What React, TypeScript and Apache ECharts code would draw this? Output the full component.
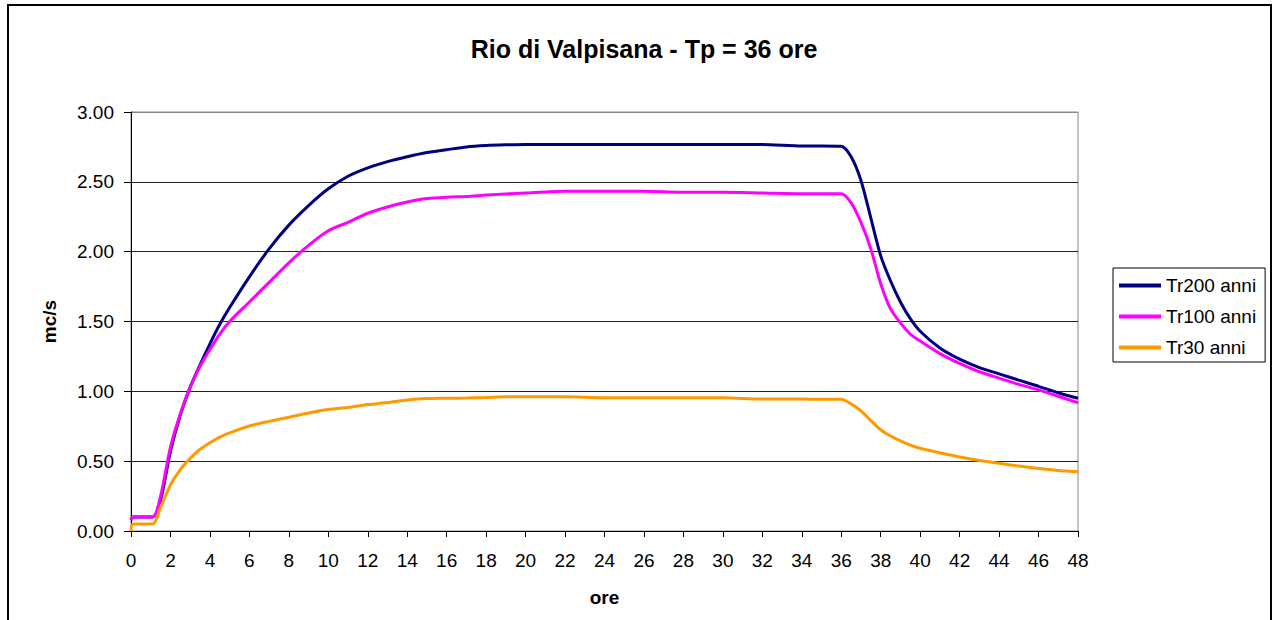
import React, { useEffect, useRef } from "react";
import * as echarts from "echarts";

const hours = [0, 0.1, 1.1, 1.5, 2, 2.5, 3, 3.5, 4, 4.5, 5, 6, 7, 8, 9, 10, 11, 12, 13, 14, 15, 16, 17, 18, 19, 20, 22, 24, 26, 28, 30, 32, 34, 35, 36, 36.5, 37, 37.5, 38, 38.5, 39, 39.5, 40, 41, 42, 43, 44, 45, 46, 47, 48];

const tr200 = [0.08, 0.1, 0.1, 0.22, 0.57, 0.83, 1.03, 1.19, 1.34, 1.48, 1.6, 1.82, 2.02, 2.19, 2.33, 2.45, 2.54, 2.6, 2.645, 2.68, 2.71, 2.73, 2.75, 2.76, 2.765, 2.768, 2.768, 2.768, 2.768, 2.768, 2.768, 2.768, 2.757, 2.757, 2.755, 2.68, 2.51, 2.24, 1.97, 1.79, 1.64, 1.52, 1.43, 1.31, 1.23, 1.17, 1.125, 1.08, 1.036, 0.99, 0.95];

const tr100 = [0.08, 0.1, 0.1, 0.25, 0.6, 0.84, 1.03, 1.18, 1.3, 1.41, 1.5, 1.64, 1.78, 1.92, 2.045, 2.15, 2.21, 2.275, 2.32, 2.355, 2.38, 2.39, 2.395, 2.405, 2.413, 2.42, 2.432, 2.433, 2.433, 2.425, 2.425, 2.42, 2.415, 2.415, 2.415, 2.35, 2.21, 2.02, 1.77, 1.59, 1.49, 1.41, 1.36, 1.27, 1.2, 1.14, 1.095, 1.05, 1.01, 0.965, 0.918];

const tr30 = [0.0, 0.05, 0.05, 0.17, 0.33, 0.44, 0.52, 0.585, 0.632, 0.672, 0.703, 0.752, 0.785, 0.815, 0.845, 0.87, 0.885, 0.905, 0.92, 0.938, 0.948, 0.95, 0.952, 0.955, 0.961, 0.961, 0.961, 0.954, 0.954, 0.954, 0.954, 0.945, 0.945, 0.943, 0.943, 0.91, 0.86, 0.79, 0.725, 0.68, 0.645, 0.615, 0.592, 0.56, 0.53, 0.505, 0.485, 0.465, 0.448, 0.433, 0.425];

const seriesNames = ["Tr200 anni", "Tr100 anni", "Tr30 anni"];
const seriesColors = ["#000080", "#FF00FF", "#FF9900"];
const seriesValues = [tr200, tr100, tr30];

const FONT = "'Liberation Sans', Arial, sans-serif";

export default function App() {
  const ref = useRef<HTMLDivElement>(null);
  useEffect(() => {
    if (!ref.current) return;
    const chart = echarts.init(ref.current, undefined, { renderer: "svg" });
    chart.setOption({
      animation: false,
      backgroundColor: "#ffffff",
      textStyle: { fontFamily: FONT, color: "#000" },
      title: {
        text: "Rio di Valpisana - Tp = 36 ore",
        left: 639,
        textAlign: "center",
        top: 31,
        textStyle: { fontFamily: FONT, fontSize: 25, fontWeight: "bold", color: "#000" },
      },
      graphic: [
        {
          type: "rect",
          shape: { x: 8, y: 5, width: 1263, height: 650 },
          style: { fill: "none", stroke: "#000", lineWidth: 2 },
          silent: true,
        },
      ],
      legend: {
        orient: "vertical",
        left: 1113,
        top: 268,
        data: seriesNames,
        icon: "rect",
        itemWidth: 42,
        itemHeight: 4,
        itemGap: 12,
        padding: [8, 9, 5, 6],
        borderColor: "#000",
        borderWidth: 1,
        textStyle: { fontFamily: FONT, fontSize: 19, color: "#000" },
      },
      grid: {
        left: 131,
        right: 195,
        top: 112,
        bottom: 89,
        show: true,
        borderColor: "#888",
        borderWidth: 1,
        backgroundColor: "transparent",
      },
      xAxis: {
        type: "value",
        min: 0,
        max: 48,
        interval: 2,
        name: "ore",
        nameLocation: "middle",
        nameGap: 57,
        nameTextStyle: { fontFamily: FONT, fontSize: 19, fontWeight: "bold", color: "#000" },
        axisLine: { show: true, lineStyle: { color: "#000", width: 1 } },
        axisTick: { show: true, length: 6, lineStyle: { color: "#000" } },
        axisLabel: { fontFamily: FONT, fontSize: 19, color: "#000", margin: 20 },
        splitLine: { show: false },
      },
      yAxis: {
        type: "value",
        min: 0,
        max: 3,
        interval: 0.5,
        name: "mc/s",
        nameLocation: "middle",
        nameRotate: 90,
        nameGap: 72,
        nameTextStyle: { fontFamily: FONT, fontSize: 19, fontWeight: "bold", color: "#000" },
        axisLine: { show: true, lineStyle: { color: "#000", width: 1 } },
        axisTick: { show: true, length: 7, lineStyle: { color: "#000" } },
        axisLabel: {
          fontFamily: FONT,
          fontSize: 19,
          color: "#000",
          margin: 17,
          formatter: (v: number) => v.toFixed(2),
        },
        splitLine: {
          show: true,
          lineStyle: { color: ["#222", "#222", "#222", "#222", "#222", "#222", "#888"], width: 1 },
        },
      },
      series: seriesNames.map((name, i) => ({
        name,
        type: "line",
        data: hours.map((h, k) => [h, seriesValues[i][k]]),
        showSymbol: false,
        symbol: "none",
        smooth: 0.25,
        lineStyle: { color: seriesColors[i], width: 3 },
        itemStyle: { color: seriesColors[i] },
        z: 2 + i,
      })),
    });
    return () => chart.dispose();
  }, []);
  return (
    <div
      ref={ref}
      style={{ position: "absolute", left: 0, top: 0, width: 1273, height: 620 }}
    />
  );
}
